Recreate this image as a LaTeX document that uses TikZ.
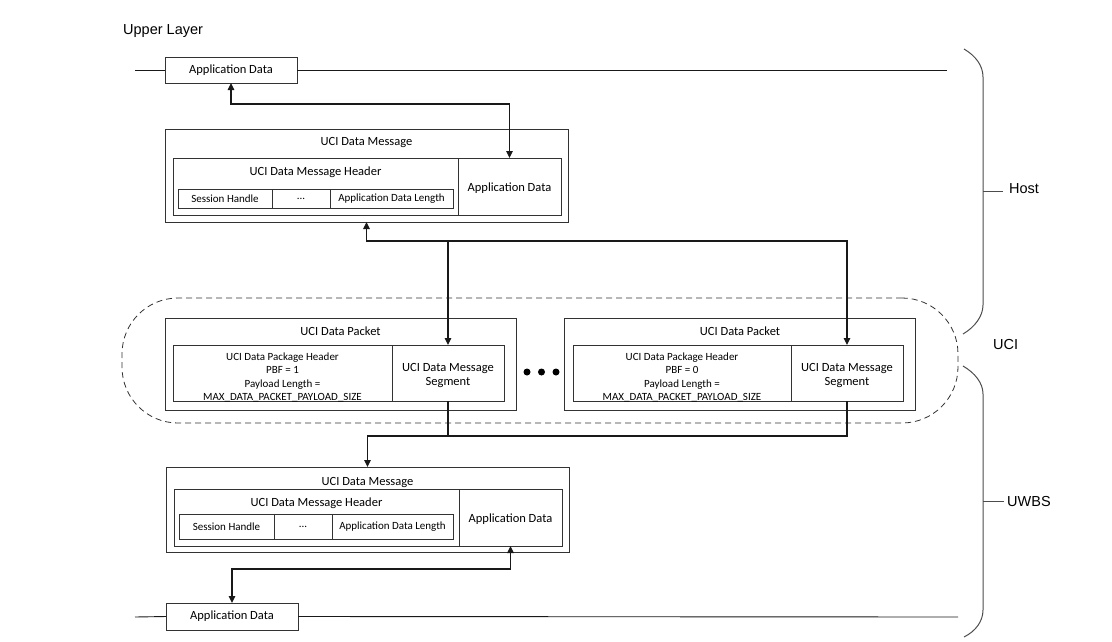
\documentclass[tikz,border=0pt]{standalone}
\usepackage{fontspec}
\setmainfont{Carlito}
\newfontfamily\arialf{Liberation Sans}
\usetikzlibrary{arrows.meta}
\tikzset{
  box/.style={draw=black!80, line width=0.9pt, inner sep=0pt, outer sep=0pt, rectangle},
  big/.style={font=\fontsize{12.5}{14.7}\selectfont},
  small/.style={font=\fontsize{11}{13.2}\selectfont},
  lbl/.style={font=\arialf\fontsize{14.5}{17}\selectfont, anchor=west, inner sep=0pt},
  conn/.style={draw=black!90, line width=1.1pt},
  arr/.style={conn, -{Triangle[length=7pt,width=6.5pt]}},
  darr/.style={conn, {Triangle[length=7pt,width=6.5pt]}-{Triangle[length=7pt,width=6.5pt]}},
  brace/.style={draw=black!70, line width=1pt},
  dot/.style={circle, fill=black, inner sep=0pt, minimum size=7pt},
}
\begin{document}
\begin{tikzpicture}[x=1pt,y=-1pt]
\useasboundingbox (0,0) rectangle (1112,641);

% dashed UCI region
\node[draw=black!80, line width=0.8pt, dash pattern=on 6pt off 4pt, rounded corners=56pt,
      minimum width=836pt, minimum height=125pt, inner sep=0pt] (ucireg) at (540,360.5) {};

% labels
\node[lbl] (upper) at (123,31.5) {Upper Layer};
\node[lbl] (host) at (1009,189) {Host};
\node[lbl] (ucil) at (993,345) {UCI};
\node[lbl] (uwbs) at (1007,501.5) {UWBS};

% top application data
\node[box, big, minimum width=132pt, minimum height=26pt] (topApp) at (231,70) {Application Data};
\coordinate (L1) at (135,70);
\coordinate (R1) at (947,70);
\draw[conn, line width=0.9pt] (L1) -- (topApp.west);
\draw[conn, line width=0.9pt] (topApp.east) -- (R1);

% message 1
\node[box, minimum width=403pt, minimum height=93pt] (msg1) at (366.5,175.5) {};
\node[big] (msg1t) at (366.5,142.5) {UCI Data Message};
\node[box, minimum width=285pt, minimum height=57pt] (hdr1) at (315.5,186.5) {};
\node[big] (hdr1t) at (315.5,172.5) {UCI Data Message Header};
\node[box, big, minimum width=103pt, minimum height=57pt] (app1) at (509.5,186.5) {};
\node[big] (app1t) at (509.5,188) {Application Data};
\node[box, small, minimum width=94pt, minimum height=19pt] (sh1) at (225,198.5) {Session Handle};
\node[box, small, minimum width=58pt, minimum height=19pt] (dots1) at (301,198.5) {...};
\node[box, small, minimum width=123pt, minimum height=19pt] (adl1) at (391.5,198.5) {Application Data Length};

% packet 1
\node[box, minimum width=351pt, minimum height=92pt] (pk1) at (340.5,364) {};
\node[big] (pk1t) at (340.5,331) {UCI Data Packet};
\node[box, minimum width=219pt, minimum height=56pt] (ph1) at (282.5,373) {};
\node[small, align=center] (ph1t) at (282.5,377.5)
  {UCI Data Package Header\\PBF = 1\\Payload Length =\\MAX\_DATA\_PACKET\_PAYLOAD\_SIZE};
\node[box, minimum width=112pt, minimum height=56pt] (seg1) at (448,373) {};
\node[big, align=center] (seg1t) at (448,375.5) {UCI Data Message\\Segment};

% dots
\node[dot] (d1) at (527,372) {};
\node[dot] (d2) at (541.5,372) {};
\node[dot] (d3) at (556,372) {};

% packet 2
\node[box, minimum width=351pt, minimum height=92pt] (pk2) at (739.5,364) {};
\node[big] (pk2t) at (740,331) {UCI Data Packet};
\node[box, minimum width=218pt, minimum height=56pt] (ph2) at (682,373) {};
\node[small, align=center] (ph2t) at (682,377.5)
  {UCI Data Package Header\\PBF = 0\\Payload Length =\\MAX\_DATA\_PACKET\_PAYLOAD\_SIZE};
\node[box, minimum width=112pt, minimum height=56pt] (seg2) at (847,373) {};
\node[big, align=center] (seg2t) at (847,375.5) {UCI Data Message\\Segment};

% message 2
\node[box, minimum width=403pt, minimum height=85pt] (msg2) at (367.5,509.5) {};
\node[big] (msg2t) at (367.5,482.5) {UCI Data Message};
\node[box, minimum width=285pt, minimum height=57pt] (hdr2) at (316.5,517.5) {};
\node[big] (hdr2t) at (316.5,503.5) {UCI Data Message Header};
\node[box, minimum width=103pt, minimum height=57pt] (app2) at (510.5,517.5) {};
\node[big] (app2t) at (510.5,519.5) {Application Data};
\node[box, small, minimum width=95pt, minimum height=25pt] (sh2) at (226.5,526.5) {Session Handle};
\node[box, small, minimum width=58pt, minimum height=25pt] (dots2) at (303,526.5) {...};
\node[box, small, minimum width=121pt, minimum height=25pt] (adl2) at (392.5,526.5) {Application Data Length};

% bottom application data
\node[box, big, minimum width=132pt, minimum height=27pt] (botApp) at (232,616.5) {Application Data};
\coordinate (L2) at (135,617);
\coordinate (R2) at (958,617);
\draw[conn, line width=0.9pt] (L2) -- (botApp.west);
\draw[conn, line width=0.9pt] (botApp.east) -- (R2);

% connectors
\draw[darr] (topApp.south) -- ++(0,21) -| (app1.north);
\path (msg1.south) -- ++(0,19) coordinate (j1);
\draw[darr] (msg1.south) -- (j1) -| (seg2.north);
\draw[arr] (seg1.north |- j1) -- (seg1.north);
\path (seg1.south) -- ++(0,35) coordinate (j2);
\draw[conn] (seg1.south) -- (j2);
\draw[arr] (seg2.south) |- (msg2.north |- j2) -- (msg2.north);
\draw[darr] (app2.south) -- ++(0,23) -| (botApp.north);

% braces
\draw[brace] (964,49) .. controls (976,56) and (983,66) .. (983,77) -- (983,305)
  .. controls (983,316) and (975,327) .. (963,334);
\draw[brace] (963,366) .. controls (975,373) and (983,383) .. (983,394) -- (983,610)
  .. controls (983,621) and (976,631) .. (964,637);
\draw[brace] (983,191.5) -- (1003,191.5);
\draw[brace] (983,501.5) -- (1004,501.5);
\end{tikzpicture}
\end{document}
